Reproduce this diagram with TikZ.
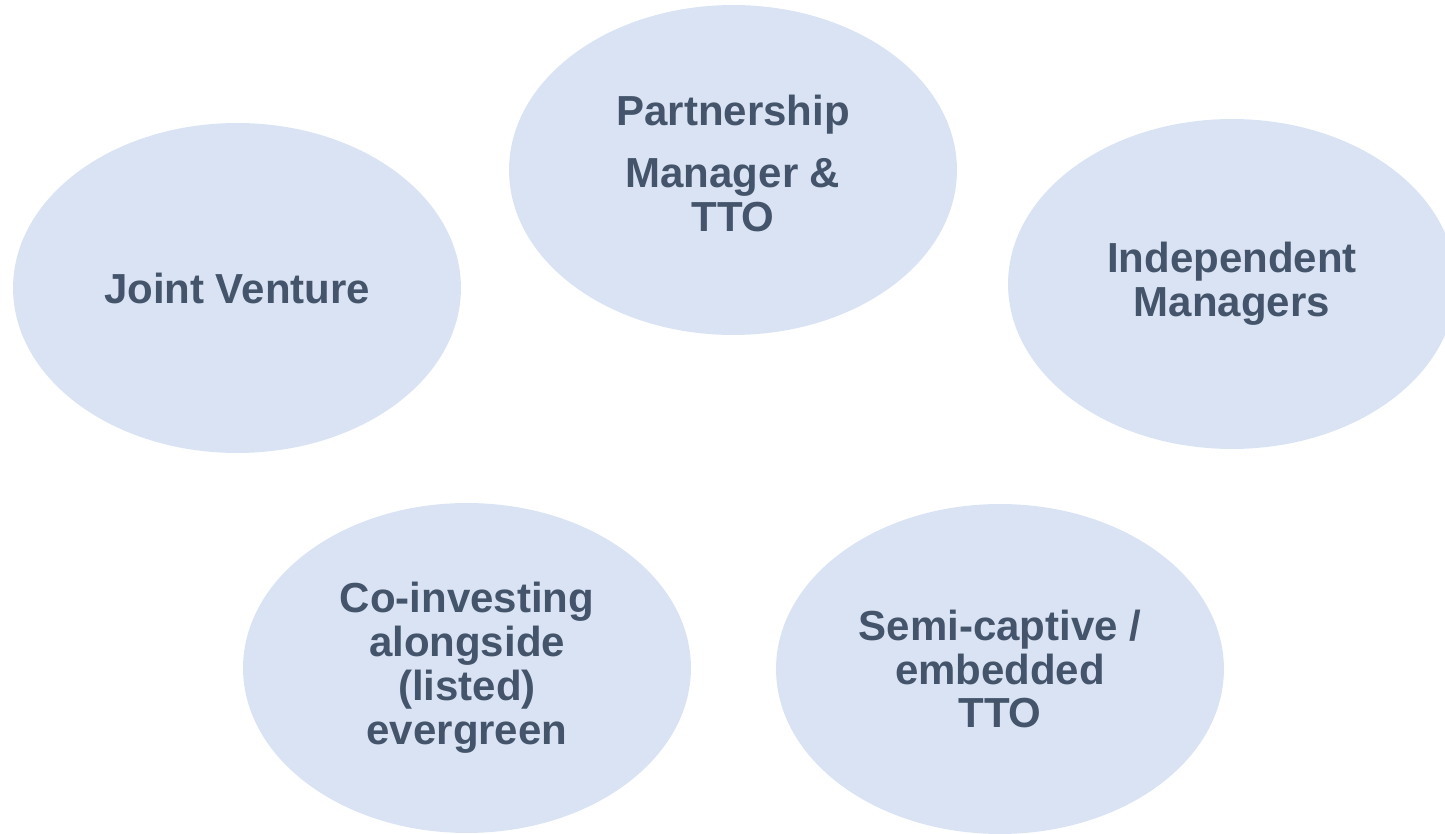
\documentclass[tikz,border=0pt]{standalone}
\usepackage{fontspec}
\setmainfont{Liberation Sans}
\usetikzlibrary{shapes.geometric}
\definecolor{bubblefill}{HTML}{DAE3F3}
\definecolor{bubbletext}{HTML}{44546A}
\begin{document}
\begin{tikzpicture}[x=0.02cm, y=-0.02cm,
    bubble/.style={ellipse, fill=bubblefill, text=bubbletext, align=center,
        minimum width=8.96cm, minimum height=6.6cm, inner sep=0pt,
        font=\fontsize{23.9}{25}\selectfont\bfseries}]
    \useasboundingbox (0,0) rectangle (1445,834);
    \clip (0,0) rectangle (1445,834);

    % Top row
    \node[bubble] (jv) at (237,288) {Joint Venture};
    \node[bubble] (ptm) at (733,170) {Partnership\\[0.36cm]Manager \&\\TTO\rule[-0.28cm]{0pt}{0pt}};
    \node[bubble] (indep) at (1232,284) {Independent\\Managers};

    % Bottom row
    \node[bubble] (coinv) at (467,668) {Co-investing\\alongside\\(listed)\\evergreen};
    \node[bubble] (semi) at (1000,669) {Semi-captive /\\embedded\\TTO};
\end{tikzpicture}
\end{document}
